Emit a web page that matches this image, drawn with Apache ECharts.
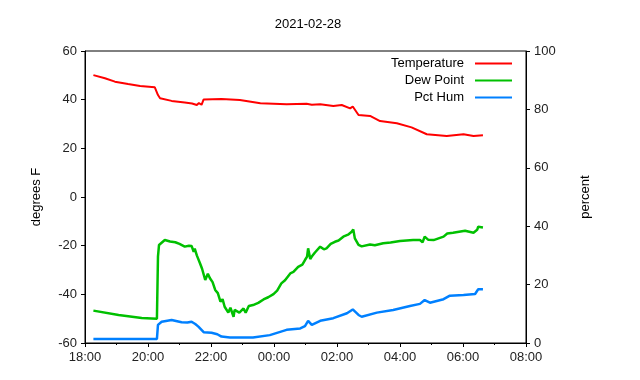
<!DOCTYPE html>
<html>
<head>
<meta charset="utf-8">
<script src="https://cdn.jsdelivr.net/npm/echarts@6/dist/echarts.min.js"></script>
<style>
  html, body { margin: 0; padding: 0; background: #fff; }
  #main { width: 640px; height: 380px; }
</style>
</head>
<body>
<div id="main"></div>
<script>
// readings
var tempTimes = ['18:16','18:38','18:57','19:22','19:45','20:13','20:19','20:23','20:45','21:10','21:24','21:33','21:37','21:42','21:46','22:20','22:55','23:34','00:24','01:02','01:12','01:28','01:53','02:09','02:25','02:30','02:41','03:03','03:22','03:54','04:22','04:51','05:29','06:01','06:20','06:38'];
var tempVals = [50.1,48.8,47.4,46.4,45.6,45.1,41.9,40.6,39.5,38.8,38.4,37.8,38.6,37.9,40.1,40.3,39.9,38.5,38.1,38.3,37.9,38.1,37.4,37.8,36.4,37.2,33.7,33.3,31.2,30.3,28.6,25.8,25.1,25.8,25.1,25.4];

var dewTimes = ['18:16','19:04','19:48','20:17','20:19','20:21','20:32','20:42','20:52','21:00','21:10','21:18','21:23','21:27','21:29','21:33','21:39','21:43','21:49','21:54','21:58','22:03','22:08','22:13','22:18','22:22','22:26','22:33','22:37','22:43','22:45','22:54','23:02','23:06','23:12','23:20','23:30','23:40','23:49','23:59','00:06','00:14','00:21','00:31','00:37','00:46','00:54','00:59','01:03','01:05','01:09','01:12','01:18','01:28','01:35','01:40','01:48','01:56','02:03','02:12','02:21','02:28','02:31','02:34','02:41','02:47','03:03','03:12','03:28','03:42','04:00','04:25','04:38','04:43','04:47','04:54','05:04','05:23','05:30','05:41','06:04','06:20','06:27','06:29','06:38'];
var dewVals = [-46.7,-48.5,-49.7,-50.0,-24.5,-19.7,-17.7,-18.3,-18.6,-19.3,-20.4,-20.0,-20.1,-22.5,-21.2,-24.0,-27.2,-29.5,-34.1,-31.5,-33.4,-35.0,-38.2,-39.5,-43.0,-42.0,-45.1,-47.5,-45.5,-49.2,-46.4,-47.5,-45.8,-47.6,-44.8,-44.4,-43.5,-42.1,-41.2,-39.9,-38.5,-35.5,-34.2,-31.4,-30.8,-28.7,-27.8,-25.9,-24.5,-21.1,-25.5,-24.5,-22.8,-20.4,-21.5,-21.1,-19.3,-18.4,-17.9,-16.3,-15.5,-14.3,-13.3,-17.0,-19.7,-20.3,-19.5,-19.8,-19.0,-18.7,-18.1,-17.7,-17.7,-18.6,-16.3,-17.6,-17.7,-16.3,-15.0,-14.7,-13.9,-14.7,-13.5,-12.2,-12.5];

var humTimes = ['18:16','20:17','20:19','20:26','20:45','21:04','21:15','21:23','21:30','21:36','21:46','22:01','22:12','22:20','22:36','23:20','23:52','00:24','00:50','00:59','01:05','01:12','01:28','01:53','02:19','02:30','02:41','02:47','03:16','03:47','04:19','04:38','04:47','04:57','05:23','05:35','06:01','06:23','06:29','06:38'];
var humVals = [1.4,1.4,6.2,7.3,7.9,7.1,7.0,7.3,6.5,5.6,3.7,3.5,3.0,2.2,1.9,1.9,2.7,4.5,5.0,5.8,7.6,6.2,7.6,8.5,10.2,11.5,9.6,9.0,10.4,11.3,12.7,13.4,14.7,13.8,15.0,16.2,16.4,16.8,18.4,18.4];

var xTicks = ['18:00','20:00','22:00','00:00','02:00','04:00','06:00','08:00'];

var FONT = '"Liberation Sans", Arial, sans-serif';

// hours after 18:00
function toHours(t) {
  var p = t.split(':');
  var h = parseInt(p[0], 10);
  if (h < 18) h += 24;
  return h - 18 + parseInt(p[1], 10) / 60;
}

function pairs(times, vals) {
  var out = [];
  for (var i = 0; i < times.length; i++) {
    out.push([toHours(times[i]), vals[i]]);
  }
  return out;
}

var chart = echarts.init(document.getElementById('main'), null, { renderer: 'canvas' });

var option = {
  backgroundColor: '#fff',
  animation: false,
  textStyle: { fontFamily: FONT },
  title: {
    text: '2021-02-28',
    left: 303,
    top: 13,
    textAlign: 'center',
    textStyle: { fontSize: 13, fontWeight: 'normal', color: '#000', fontFamily: FONT }
  },
  legend: {
    orient: 'vertical',
    right: 123,
    top: 51,
    align: 'right',
    icon: 'rect',
    itemWidth: 37,
    itemHeight: 2,
    itemGap: 2,
    textStyle: { fontSize: 13, color: '#000', fontFamily: FONT, lineHeight: 15, padding: [0, 6, 0, 0] },
    data: ['Temperature', 'Dew Point', 'Pct Hum']
  },
  grid: {
    left: 85,
    right: 114,
    top: 51,
    bottom: 37,
    show: true,
    borderColor: '#000',
    borderWidth: 1,
    backgroundColor: 'transparent'
  },
  xAxis: {
    type: 'value',
    min: 0,
    max: 14,
    interval: 2,
    axisLine: { show: true, onZero: false, lineStyle: { color: '#000', width: 1 } },
    axisTick: { show: true, length: 4, lineStyle: { color: '#000' } },
    minorTick: { show: true, splitNumber: 2, length: 2, lineStyle: { color: '#000' } },
    splitLine: { show: false },
    axisLabel: {
      fontSize: 13,
      color: '#222',
      fontFamily: FONT,
      margin: 8,
      formatter: function (v) { return xTicks[Math.round(v / 2)]; }
    }
  },
  yAxis: [{
    type: 'value',
    min: -60,
    max: 60,
    interval: 20,
    name: 'degrees F',
    nameLocation: 'middle',
    nameGap: 42,
    nameTextStyle: { fontSize: 13, color: '#000', fontFamily: FONT },
    axisLine: { show: true, onZero: false, lineStyle: { color: '#000' } },
    axisTick: { show: true, length: 4, lineStyle: { color: '#000' } },
    splitLine: { show: false },
    axisLabel: { fontSize: 13, color: '#222', fontFamily: FONT, margin: 8 }
  }, {
    type: 'value',
    min: 0,
    max: 100,
    interval: 20,
    position: 'right',
    name: 'percent',
    nameLocation: 'middle',
    nameGap: 53,
    nameTextStyle: { fontSize: 13, color: '#000', fontFamily: FONT },
    axisLine: { show: true, onZero: false, lineStyle: { color: '#000' } },
    axisTick: { show: true, length: 4, lineStyle: { color: '#000' } },
    splitLine: { show: false },
    axisLabel: { fontSize: 13, color: '#222', fontFamily: FONT, margin: 8 }
  }],
  series: [{
    name: 'Temperature',
    type: 'line',
    yAxisIndex: 0,
    showSymbol: false,
    color: '#ff0000',
    lineStyle: { width: 2, color: '#ff0000' },
    data: pairs(tempTimes, tempVals)
  }, {
    name: 'Dew Point',
    type: 'line',
    yAxisIndex: 0,
    showSymbol: false,
    color: '#00c000',
    lineStyle: { width: 2.5, color: '#00c000' },
    data: pairs(dewTimes, dewVals)
  }, {
    name: 'Pct Hum',
    type: 'line',
    yAxisIndex: 1,
    showSymbol: false,
    color: '#0080ff',
    lineStyle: { width: 2.5, color: '#0080ff' },
    data: pairs(humTimes, humVals)
  }]
};

chart.setOption(option);
</script>
</body>
</html>
